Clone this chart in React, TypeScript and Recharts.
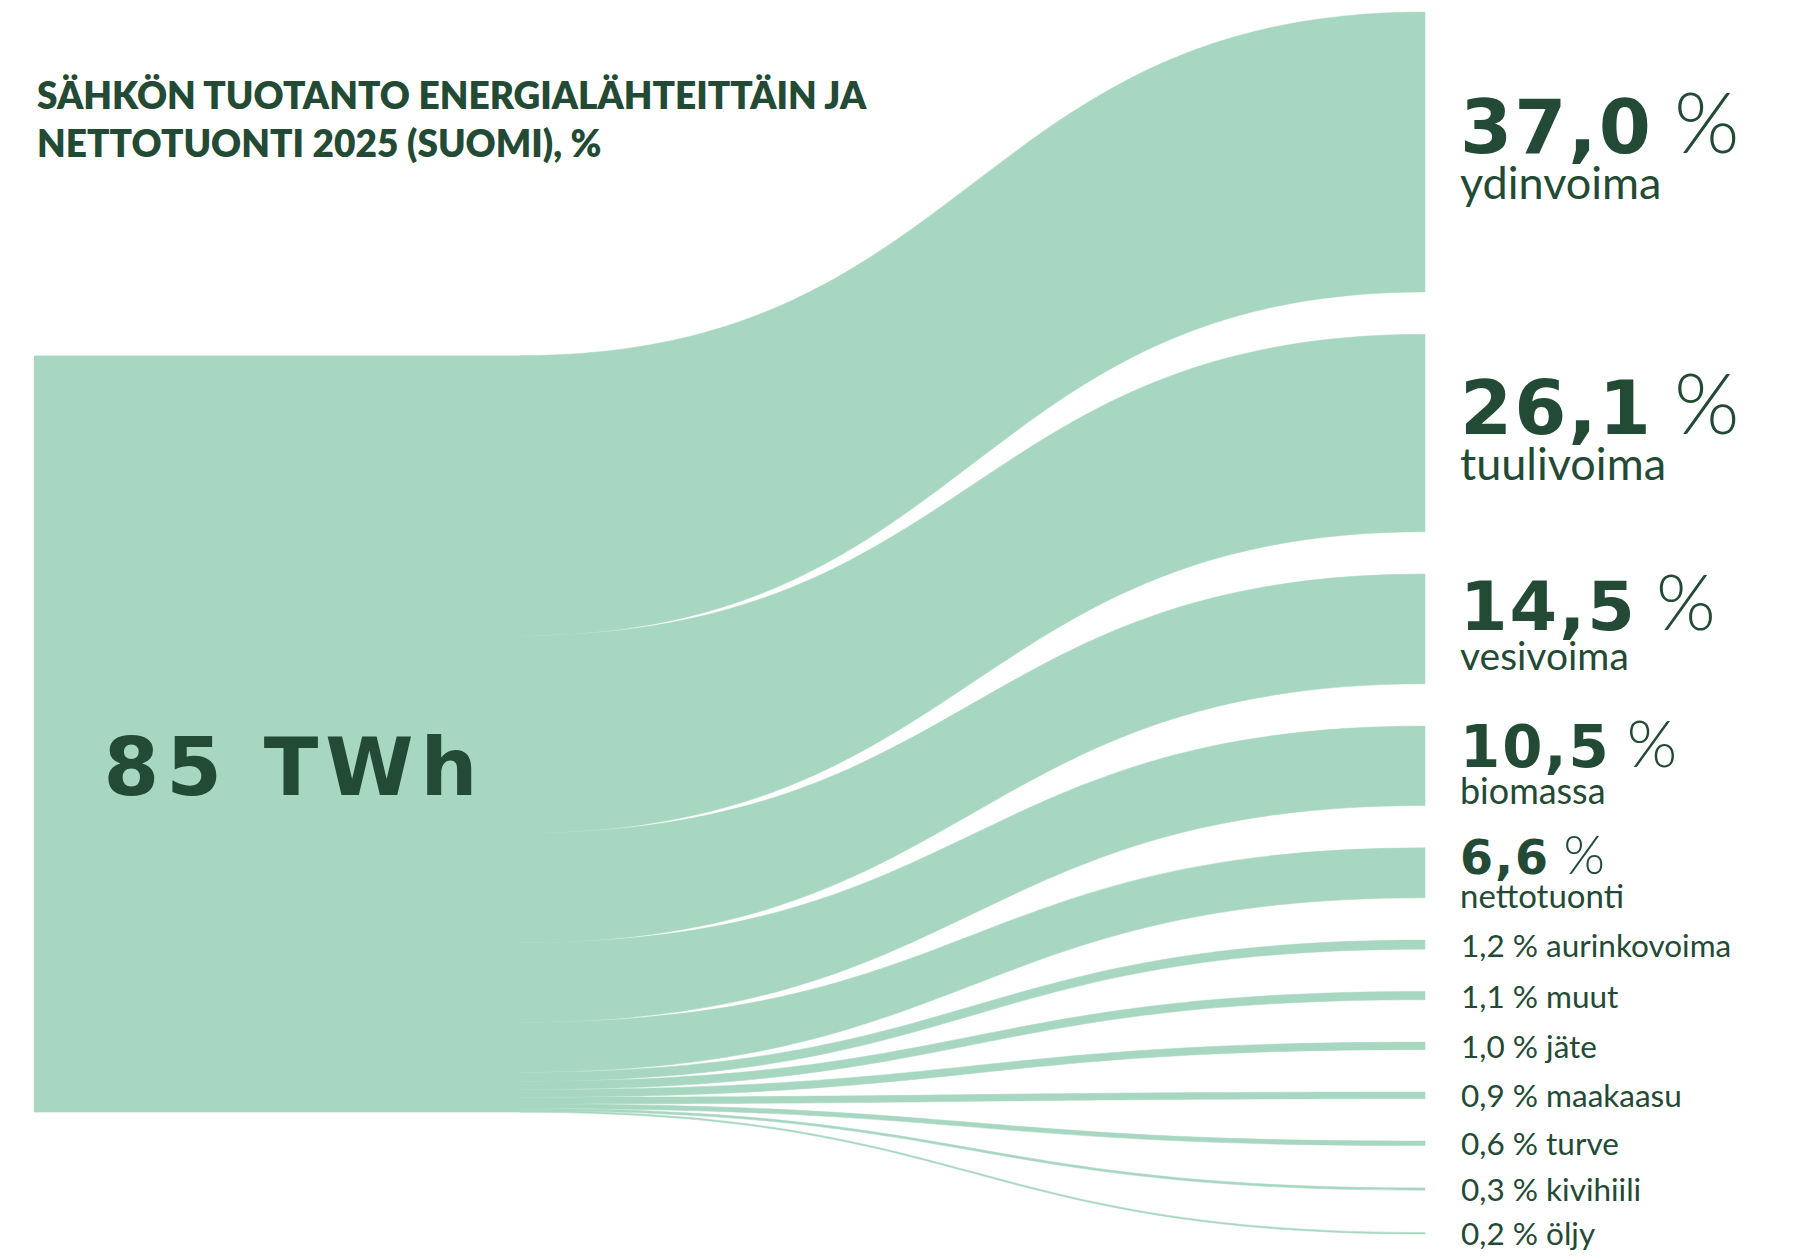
import { Sankey } from "recharts";

// Electricity production by source + net import, Finland 2025 (% of 85 TWh)
const sourceName = "85 TWh";
const categories = [
  "ydinvoima",
  "tuulivoima",
  "vesivoima",
  "biomassa",
  "nettotuonti",
  "aurinkovoima",
  "muut",
  "jäte",
  "maakaasu",
  "turve",
  "kivihiili",
  "öljy",
];
const shares = [37.0, 26.1, 14.5, 10.5, 6.6, 1.2, 1.1, 1.0, 0.9, 0.6, 0.3, 0.2];
const titleLines = ["SÄHKÖN TUOTANTO ENERGIALÄHTEITTÄIN JA", "NETTOTUONTI 2025 (SUOMI), %"];

const data = {
  nodes: [{ name: sourceName }, ...categories.map((name) => ({ name }))],
  links: shares.map((value, i) => ({ source: 0, target: i + 1, value })),
};

const FLOW = "#a7d7c1";
const INK = "#234a34";
const BIG_THRESHOLD = 5;
// the source block sits lower in the original than the weighted-centre layout puts it
const SOURCE_SHIFT = 280;

const fmt = (v: number) => v.toFixed(1).replace(".", ",");

const FlowLink = (props: any) => {
  const { sourceX, targetX, sourceY, targetY, sourceControlX, targetControlX, linkWidth } = props;
  const sy = sourceY + SOURCE_SHIFT;
  const h = linkWidth / 2;
  const d =
    `M${sourceX},${sy - h} C${sourceControlX},${sy - h} ${targetControlX},${targetY - h} ${targetX},${targetY - h}` +
    ` L${targetX},${targetY + h} C${targetControlX},${targetY + h} ${sourceControlX},${sy + h} ${sourceX},${sy + h} Z`;
  return <path d={d} fill={FLOW} stroke={FLOW} strokeWidth={0.5} />;
};

const FlowNode = (props: any) => {
  const { x, y, width, height, payload } = props;
  if (payload.depth === 0) {
    const top = y + SOURCE_SHIFT;
    return (
      <g>
        <rect x={x} y={top} width={width} height={height} fill={FLOW} />
        <text
          x={x + width / 2 + 17}
          y={top + height / 2 + 61}
          textAnchor="middle"
          fontFamily="DejaVu Sans"
          fontWeight={700}
          fontSize={80}
          letterSpacing={7}
          fill={INK}
        >
          {payload.name}
        </text>
      </g>
    );
  }
  const cy = y + height / 2;
  const lx = x + 35;
  const pct = fmt(payload.value);
  if (payload.value >= BIG_THRESHOLD) {
    const n = Math.min(75, 30 + height * 0.35);
    const l = Math.min(45, 28 + height * 0.1);
    return (
      <g>
        <text x={lx} y={cy + 1} fill={INK}>
          <tspan fontFamily="DejaVu Sans" fontWeight={700} fontSize={n} letterSpacing={2}>
            {pct}
          </tspan>
          <tspan fontFamily="Lato" fontWeight={300} fontSize={n * 1.12} dx={n * 0.28}>
            %
          </tspan>
        </text>
        <text x={lx} y={cy + 4 + l * 0.95} fontFamily="Lato" fontSize={l} fill={INK}>
          {payload.name}
        </text>
      </g>
    );
  }
  return (
    <text x={lx + 1} y={cy} dominantBaseline="central" fontFamily="Lato" fontSize={31.5} fill={INK}>
      {`${pct} % ${payload.name}`}
    </text>
  );
};

export default function App() {
  return (
    <div
      style={{
        position: "absolute",
        left: 0,
        top: 0,
        width: 1793,
        height: 1260,
        overflow: "hidden",
        background: "#fff",
      }}
    >
      <Sankey
        width={1911}
        height={1260}
        data={data}
        nodeWidth={486}
        nodePadding={42.3}
        linkCurvature={0.5}
        margin={{ top: 12, right: 0, bottom: 26, left: 34 }}
        node={FlowNode}
        link={FlowLink}
      />
      <div
        style={{
          position: "absolute",
          left: 37,
          top: 71,
          fontFamily: "Lato",
          fontWeight: 800,
          fontSize: 37,
          lineHeight: "48px",
          color: INK,
          whiteSpace: "nowrap",
        }}
      >
        {titleLines.map((t) => (
          <div key={t}>{t}</div>
        ))}
      </div>
    </div>
  );
}
